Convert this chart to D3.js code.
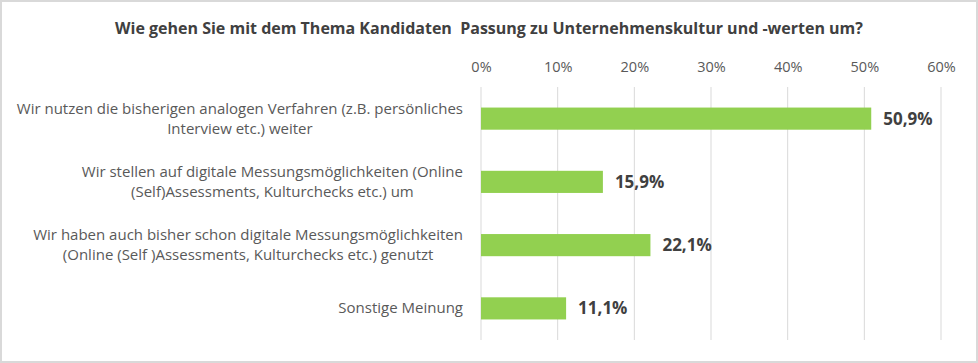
<!DOCTYPE html>
<html><head><meta charset="utf-8">
<script src="https://cdn.jsdelivr.net/npm/d3@7"></script>
<style>body{margin:0;background:#fff} text{white-space:pre}</style>
</head><body>
<script>
const title = "Wie gehen Sie mit dem Thema Kandidaten  Passung zu Unternehmenskultur und -werten um?";
const categories = [
  ["Wir nutzen die bisherigen analogen Verfahren (z.B. persönliches", "Interview etc.) weiter"],
  ["Wir stellen auf digitale Messungsmöglichkeiten (Online", "(Self)Assessments, Kulturchecks etc.) um"],
  ["Wir haben auch bisher schon digitale Messungsmöglichkeiten", "(Online (Self )Assessments, Kulturchecks etc.) genutzt"],
  ["Sonstige Meinung"]
];
const values = [50.9, 15.9, 22.1, 11.1];
const valueLabels = ["50,9%", "15,9%", "22,1%", "11,1%"];
const ticks = [0, 10, 20, 30, 40, 50, 60];

const W = 978, H = 363;
const font = "'Open Sans', Lato, sans-serif";
const svg = d3.select("body").append("svg").attr("width", W).attr("height", H);
svg.append("rect").attr("x",1).attr("y",1).attr("width",W-2).attr("height",H-2)
  .attr("fill","#fff").attr("stroke","#d9d9d9").attr("stroke-width",2);

svg.append("text").attr("x", 489).attr("y", 34).attr("text-anchor","middle")
  .attr("font-family", font).attr("font-weight","bold").attr("font-size", 16)
  .attr("fill","#404040").text(title);

const x = d3.scaleLinear().domain([0,60]).range([481, 941]);
const y = d3.scaleBand().domain(d3.range(categories.length)).range([87, 340]).paddingInner(0.65).paddingOuter(0.325);

const axis = d3.axisTop(x).tickValues(ticks).tickFormat(d => d + "%").tickSize(0).tickPadding(0);
const ga = svg.append("g").attr("transform", "translate(0,72)").call(axis);
ga.select(".domain").remove();
ga.selectAll("text").attr("font-family", font).attr("font-size", 14.5).attr("fill","#595959");

svg.append("g").selectAll("line").data(ticks).join("line")
  .attr("x1", d => x(d)).attr("x2", d => x(d)).attr("y1", 87).attr("y2", 340)
  .attr("stroke","#d9d9d9").attr("stroke-width",1);

svg.append("g").selectAll("rect").data(values).join("rect")
  .attr("x", x(0)).attr("y", (d,i) => y(i)).attr("width", d => x(d) - x(0)).attr("height", y.bandwidth())
  .attr("fill","#92d050");

svg.append("g").selectAll("text").data(values).join("text")
  .attr("x", d => x(d) + 12).attr("y", (d,i) => y(i) + y.bandwidth()/2 + 6)
  .attr("font-family", font).attr("font-weight","bold").attr("font-size", 17)
  .attr("fill","#404040").text((d,i) => valueLabels[i]);

// category labels: centered block, right-aligned at x=463
const lg = svg.append("g");
categories.forEach((lines, i) => {
  const cy = y(i) + y.bandwidth()/2;
  const g = lg.append("g");
  const n = lines.length;
  const texts = lines.map((l, j) => g.append("text")
    .attr("y", cy + (j - (n-1)/2) * 20 + 5)
    .attr("font-family", font).attr("font-size", 15).attr("fill","#595959")
    .attr("text-anchor","middle").text(l));
  const maxW = d3.max(texts, t => t.node().getComputedTextLength());
  texts.forEach(t => t.attr("x", 463 - maxW/2));
});
</script>
</body></html>
